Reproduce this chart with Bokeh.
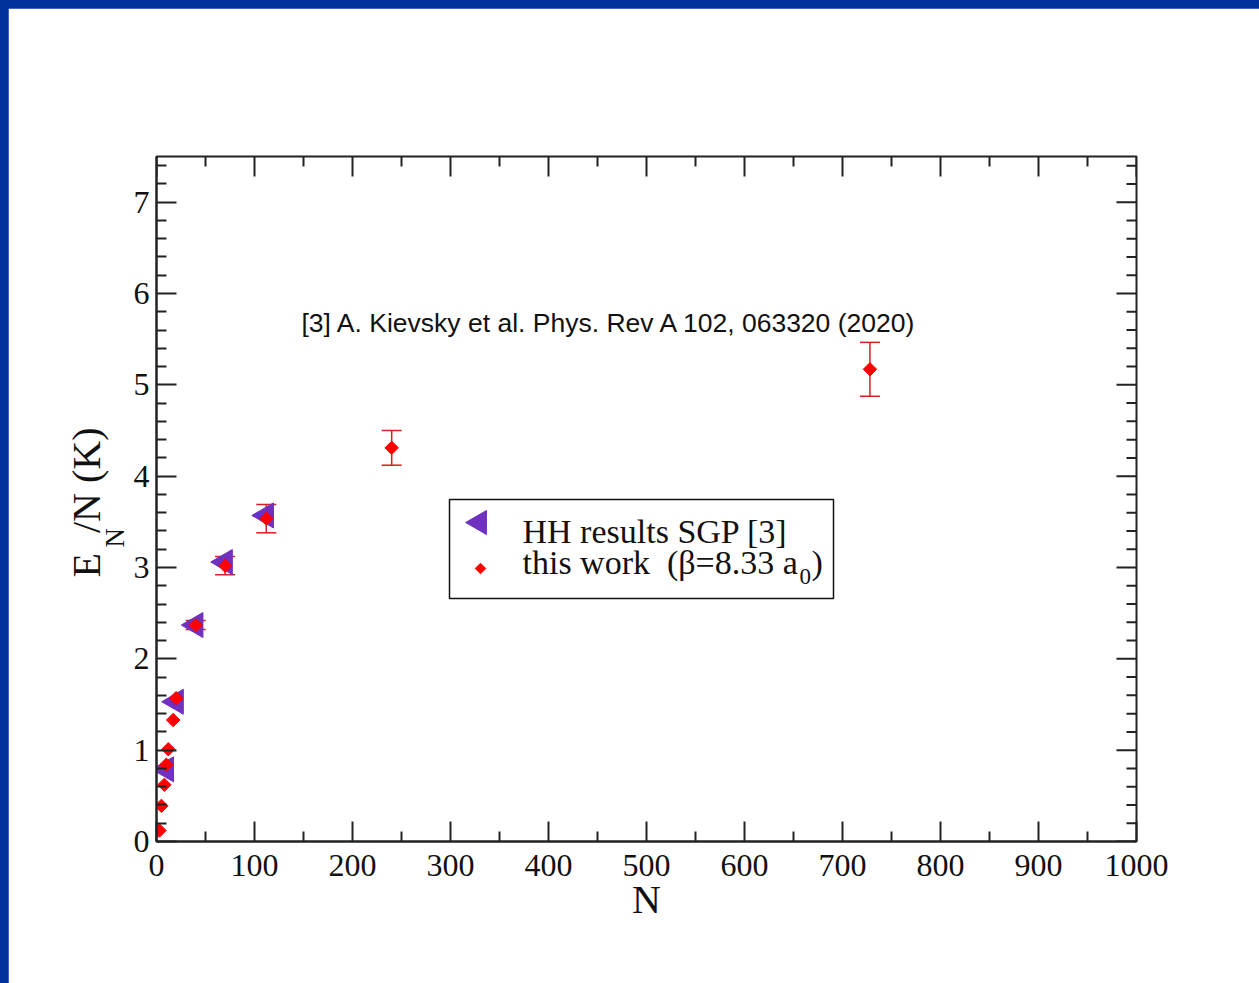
import math
from bokeh.plotting import figure
from bokeh.models import (Range1d, FixedTicker, Label, BoxAnnotation, Title,
                          Whisker, TeeHead, ColumnDataSource)
from bokeh.embed import file_html
from bokeh.resources import INLINE

# ---------------- data ----------------
hh_N = [10, 20, 40, 70, 112]
hh_E = [0.79, 1.53, 2.37, 3.06, 3.57]

tw_N = [3, 5, 8, 10, 12, 17, 20, 40, 70, 112, 240, 728]
tw_E = [0.12, 0.39, 0.62, 0.84, 1.01, 1.33, 1.57, 2.37, 3.02, 3.535, 4.31, 5.17]
tw_err = [0, 0, 0, 0, 0, 0, 0, 0.05, 0.10, 0.155, 0.19, 0.295]

x_ticks = [0, 100, 200, 300, 400, 500, 600, 700, 800, 900, 1000]
x_minor = [50, 150, 250, 350, 450, 550, 650, 750, 850, 950]
y_ticks = [0, 1, 2, 3, 4, 5, 6, 7]

legend_hh = "HH results SGP [3]"
legend_tw = "this work\u00a0 (\u03b2=8.33 a"
ref_text = "[3] A. Kievsky et al. Phys. Rev A 102, 063320 (2020)"

# ---------------- layout ----------------
X0, X1, Y0, Y1 = 0, 1000, 0, 7.5
FL, FR, FT, FB = 156, 1136, 156, 841          # frame on the page (px)
W, H = 1251, 975
DX = (X1 - X0) / (FR - FL)                    # data units per px
DY = (Y1 - Y0) / (FB - FT)


def xd(px):
    return X0 + (px - FL) * DX


def yd(py):
    return Y0 + (FB - py) * DY


SERIF = "Liberation Serif"
AXC = "#222222"

p = figure(width=W, height=H, x_range=Range1d(X0, X1), y_range=Range1d(Y0, Y1),
           output_backend="svg", toolbar_location=None,
           min_border_left=FL - 8, min_border_right=W + 8 - FR,
           min_border_top=FT - 8, min_border_bottom=H + 8 - FB,
           background_fill_color="white", border_fill_color="white")
p.grid.visible = False
p.outline_line_color = AXC
p.outline_line_width = 2

y_minor = [round(i * 0.2, 1) for i in range(1, 38) if i % 5 != 0]

for ax, tk, mn in ((p.xaxis[0], x_ticks, x_minor), (p.yaxis[0], y_ticks, y_minor)):
    ax.ticker = FixedTicker(ticks=tk, minor_ticks=mn)
    ax.axis_line_color = AXC
    ax.axis_line_width = 2
    ax.major_tick_in = 20
    ax.major_tick_out = 0
    ax.minor_tick_in = 10
    ax.minor_tick_out = 0
    ax.major_tick_line_color = AXC
    ax.major_tick_line_width = 2
    ax.minor_tick_line_color = AXC
    ax.minor_tick_line_width = 2
    ax.major_label_text_font = SERIF
    ax.major_label_text_font_size = "32px"
    ax.major_label_text_color = "#111111"

p.xaxis[0].major_label_standoff = 13
p.yaxis[0].major_label_standoff = 7
p.xaxis[0].axis_label = "N"
p.xaxis[0].axis_label_text_font = SERIF
p.xaxis[0].axis_label_text_font_size = "40px"
p.xaxis[0].axis_label_text_font_style = "normal"
p.xaxis[0].axis_label_text_color = "#111111"
p.xaxis[0].axis_label_standoff = -2
p.yaxis[0].axis_label = None

# mirrored inward ticks on the top and right edges
p.segment(x0=x_ticks, y0=[Y1] * len(x_ticks), x1=x_ticks,
          y1=[Y1 - 20 * DY] * len(x_ticks), line_color=AXC, line_width=2)
p.segment(x0=x_minor, y0=[Y1] * len(x_minor), x1=x_minor,
          y1=[Y1 - 10 * DY] * len(x_minor), line_color=AXC, line_width=2)
p.segment(x0=[X1] * len(y_ticks), y0=y_ticks, x1=[X1 - 20 * DX] * len(y_ticks),
          y1=y_ticks, line_color=AXC, line_width=2)
p.segment(x0=[X1] * len(y_minor), y0=y_minor, x1=[X1 - 10 * DX] * len(y_minor),
          y1=y_minor, line_color=AXC, line_width=2)

# y-axis title: E_N/N (K), built from two side titles
t_sub = Title(text="N", text_font=SERIF, text_font_size="27px",
              text_font_style="normal", text_color="#111111",
              align="left", offset=FB - 547, standoff=2)
t_main = Title(text="E\u00a0\u00a0/N (K)", text_font=SERIF, text_font_size="40px",
               text_font_style="normal", text_color="#111111",
               align="left", offset=FB - 577, standoff=-24)
p.add_layout(t_sub, "left")
p.add_layout(t_main, "left")

# ---------------- data marks ----------------
PURPLE = "#7030c0"
RED = "#ff0000"

p.scatter(hh_N, hh_E, marker="triangle", size=25, angle=math.pi / 2,
          fill_color=PURPLE, line_color=PURPLE)

ebase = [n for n, e in zip(tw_N, tw_err) if e > 0]
eup = [v + e for v, e in zip(tw_E, tw_err) if e > 0]
elo = [v - e for v, e in zip(tw_E, tw_err) if e > 0]
esrc = ColumnDataSource(dict(base=ebase, upper=eup, lower=elo))
EC = "#d42020"
wh = Whisker(source=esrc, base="base", upper="upper", lower="lower",
             dimension="height", line_color=EC, line_width=1.5, level="underlay",
             upper_head=TeeHead(size=20, line_color=EC, line_width=1.5),
             lower_head=TeeHead(size=20, line_color=EC, line_width=1.5))
p.add_layout(wh)

p.scatter(tw_N, tw_E, marker="square", size=9.5, angle=math.pi / 4,
          fill_color=RED, line_color=RED)

# ---------------- legend (drawn by hand) ----------------
box = BoxAnnotation(left=xd(449), right=xd(833), top=yd(499), bottom=yd(598),
                    fill_color="white", fill_alpha=1.0, line_color="#111111",
                    line_alpha=1.0, line_width=1.5, level="underlay")
p.add_layout(box)
p.scatter([xd(479)], [yd(522)], marker="triangle", size=24, angle=math.pi / 2,
          fill_color=PURPLE, line_color=PURPLE)
p.scatter([xd(480)], [yd(568)], marker="square", size=7.5, angle=math.pi / 4,
          fill_color=RED, line_color=RED)


def lab(text, px, py, size, font=SERIF, align="left"):
    # py is the wanted baseline; Bokeh's alphabetic anchor sits ~0.36em lower
    lb = Label(x=xd(px), y=yd(py - 0.36 * size), text=text, text_font=font,
               text_font_size=f"{size}px", text_color="#111111",
               text_align=align, text_baseline="alphabetic", level="overlay")
    p.add_layout(lb)


lab(legend_hh, 522, 543, 34)
lab(legend_tw, 522, 574, 34)
lab("0", 799, 584, 23)
lab(")", 811, 574, 34)

# reference note
lab(ref_text, 301, 332, 26.5, font="Liberation Sans")

html = file_html(p, INLINE, title="EN/N vs N")
html = html.replace(
    "</head>",
    "<style>html{background:#003399;overflow:hidden;}"
    "body{background:#003399;margin:8px 0 0 8px !important;overflow:hidden;}</style></head>", 1)
open("out.html", "w").write(html)
